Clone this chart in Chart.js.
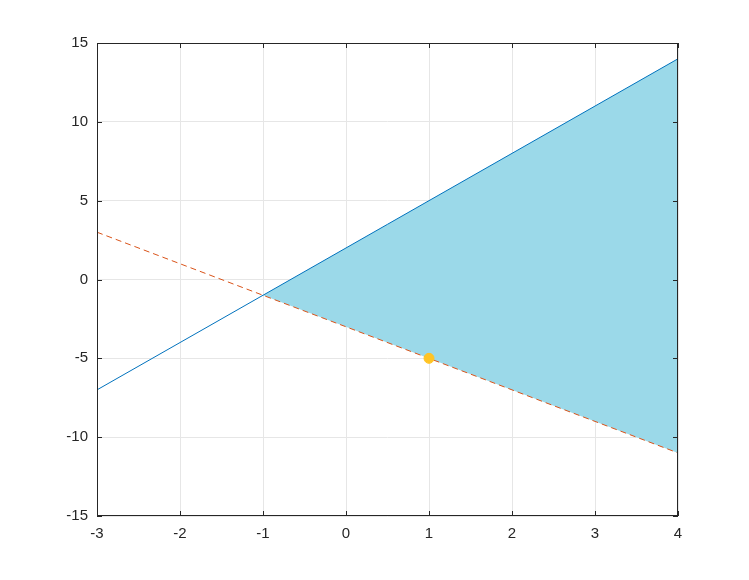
<!DOCTYPE html>
<html>
<head>
<meta charset="utf-8">
<script src="https://cdn.jsdelivr.net/npm/chart.js@4/dist/chart.umd.min.js"></script>
<style>
  html, body { margin: 0; padding: 0; background: #fff; }
  #wrap { width: 749px; height: 580px; }
</style>
</head>
<body>
<div id="wrap"><canvas id="c" width="749" height="580"></canvas></div>
<script>
// line data
const lineX = [-3, 4];
const blueY = [-7, 14];      // y = 3x + 2
const orangeY = [3, -11];    // y = -2x - 3
// shaded region between the lines
const fillX = [-1, 4];
const fillTop = [-1, 14];
const fillBottom = [-1, -11];
// marked point
const dotX = [1];
const dotY = [-5];
// axis ticks
const xTicks = [-3, -2, -1, 0, 1, 2, 3, 4];
const yTicks = [-15, -10, -5, 0, 5, 10, 15];

const pts = (xs, ys) => xs.map((x, i) => ({ x: x, y: ys[i] }));

// black box round the plot area with inward ticks
const boxPlugin = {
  id: 'box',
  afterDraw(chart) {
    const { ctx, chartArea: a, scales } = chart;
    ctx.save();
    ctx.strokeStyle = '#262626';
    ctx.lineWidth = 1;
    ctx.strokeRect(a.left + 0.5, a.top + 0.5, a.right - a.left - 1, a.bottom - a.top - 1);
    ctx.beginPath();
    xTicks.forEach(v => {
      const px = Math.round(scales.x.getPixelForValue(v)) + 0.5;
      ctx.moveTo(px, a.bottom); ctx.lineTo(px, a.bottom - 5);
      ctx.moveTo(px, a.top); ctx.lineTo(px, a.top + 5);
    });
    yTicks.forEach(v => {
      const py = Math.round(scales.y.getPixelForValue(v)) + 0.5;
      ctx.moveTo(a.left, py); ctx.lineTo(a.left + 5, py);
      ctx.moveTo(a.right, py); ctx.lineTo(a.right - 5, py);
    });
    ctx.stroke();
    ctx.restore();
  }
};

Chart.defaults.font.family = '"Liberation Sans", Arial, Helvetica, sans-serif';
Chart.defaults.font.size = 15;
Chart.defaults.color = '#262626';

new Chart(document.getElementById('c'), {
  type: 'scatter',
  data: {
    datasets: [
      {
        data: pts(fillX, fillTop),
        showLine: true,
        borderWidth: 0,
        pointRadius: 0,
        backgroundColor: '#9BD9E9',
        fill: '+1',
        order: 5
      },
      {
        data: pts(fillX, fillBottom),
        showLine: true,
        borderWidth: 0,
        pointRadius: 0,
        fill: false,
        order: 5
      },
      {
        data: pts(lineX, blueY),
        showLine: true,
        borderColor: '#0072BD',
        borderWidth: 1,
        pointRadius: 0,
        fill: false,
        order: 2
      },
      {
        data: pts(lineX, orangeY),
        showLine: true,
        borderColor: '#D95319',
        borderWidth: 1,
        borderDash: [6, 4],
        pointRadius: 0,
        fill: false,
        order: 2
      },
      {
        data: pts(dotX, dotY),
        pointRadius: 5,
        pointBackgroundColor: '#FFC425',
        pointBorderColor: '#FFC425',
        order: 1
      }
    ]
  },
  options: {
    responsive: false,
    animation: false,
    events: [],
    layout: { padding: { top: 43, right: 71, left: 0, bottom: 0 } },
    plugins: { legend: { display: false }, tooltip: { enabled: false } },
    scales: {
      x: {
        type: 'linear',
        min: -3, max: 4,
        z: 1,
        afterBuildTicks: s => { s.ticks = xTicks.map(v => ({ value: v })); },
        afterFit: s => { s.height = 64; },
        grid: { color: '#e6e6e6', drawTicks: false },
        border: { display: false },
        ticks: { padding: 9, color: '#262626' }
      },
      y: {
        type: 'linear',
        min: -15, max: 15,
        z: 1,
        afterBuildTicks: s => { s.ticks = yTicks.map(v => ({ value: v })); },
        afterFit: s => { s.width = 97; },
        grid: { color: '#e6e6e6', drawTicks: false },
        border: { display: false },
        ticks: { padding: 9, color: '#262626' }
      }
    }
  },
  plugins: [boxPlugin]
});
</script>
</body>
</html>
